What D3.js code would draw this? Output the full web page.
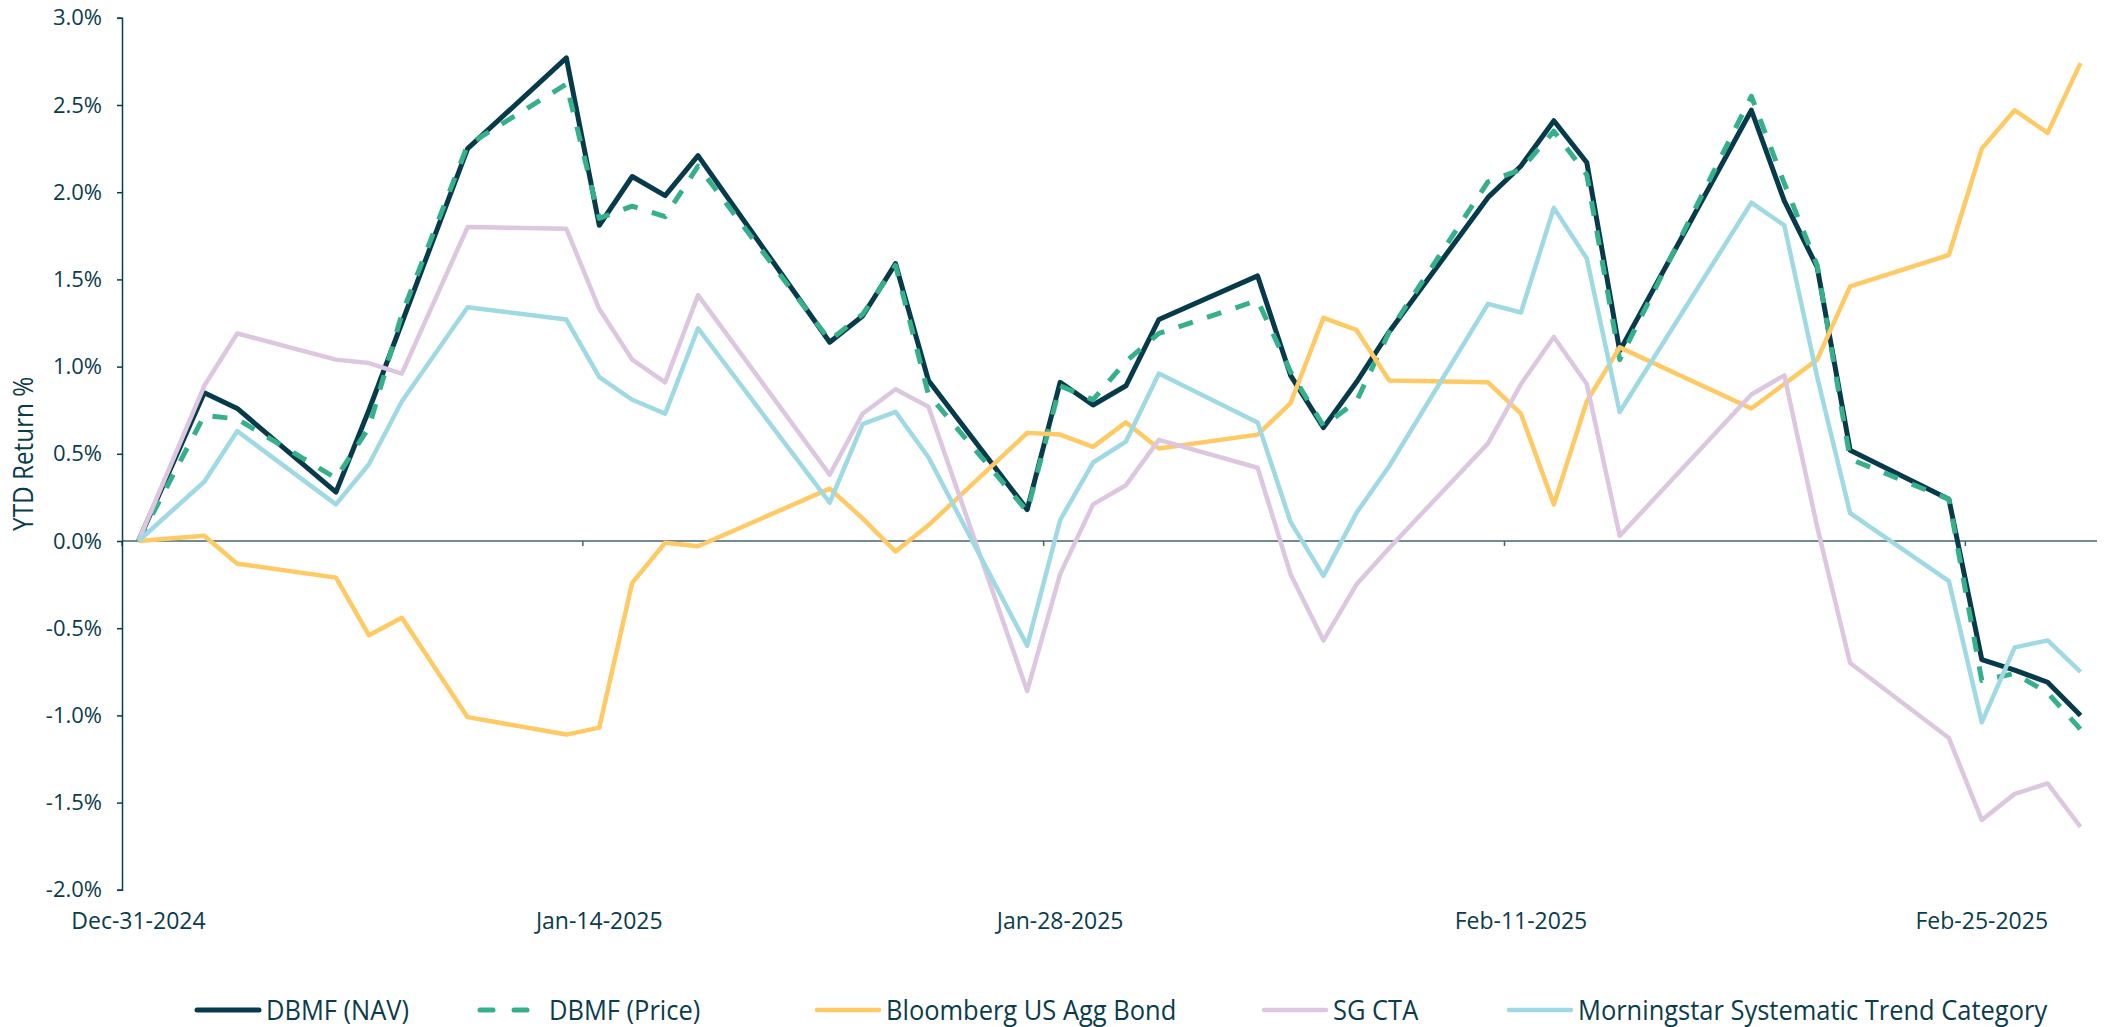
<!DOCTYPE html>
<html>
<head>
<meta charset="utf-8">
<script src="https://cdn.jsdelivr.net/npm/d3@7"></script>
<style>
    body { margin: 0; background: #fff; }
    svg { display: block; }
</style>
</head>
<body>
<main></main>
<script>
// Data - YTD return in %
let dates = ["2024-12-31", "2025-01-02", "2025-01-03", "2025-01-06", "2025-01-07", "2025-01-08", "2025-01-10",
    "2025-01-13", "2025-01-14", "2025-01-15", "2025-01-16", "2025-01-17", "2025-01-21", "2025-01-22",
    "2025-01-23", "2025-01-24", "2025-01-27", "2025-01-28", "2025-01-29", "2025-01-30", "2025-01-31",
    "2025-02-03", "2025-02-04", "2025-02-05", "2025-02-06", "2025-02-07", "2025-02-10", "2025-02-11",
    "2025-02-12", "2025-02-13", "2025-02-14", "2025-02-18", "2025-02-19", "2025-02-20", "2025-02-21",
    "2025-02-24", "2025-02-25", "2025-02-26", "2025-02-27", "2025-02-28"]

let dbmfNav = [0, 0.85, 0.76, 0.28, 0.75, 1.25, 2.25, 2.77, 1.81, 2.09, 1.98, 2.21, 1.14, 1.29, 1.59, 0.92, 0.18,
    0.91, 0.78, 0.89, 1.27, 1.52, 0.95, 0.65, 0.91, 1.20, 1.97, 2.15, 2.41, 2.17, 1.09, 2.47, 1.95, 1.57, 0.52,
    0.24, -0.68, -0.74, -0.81, -1.00]
let dbmfPrice = [0, 0.72, 0.70, 0.36, 0.65, 1.30, 2.27, 2.62, 1.85, 1.92, 1.86, 2.15, 1.15, 1.30, 1.58, 0.84, 0.17,
    0.89, 0.81, 1.03, 1.19, 1.38, 0.97, 0.66, 0.80, 1.20, 2.06, 2.13, 2.35, 2.10, 1.04, 2.55, 2.05, 1.58, 0.47,
    0.24, -0.80, -0.76, -0.87, -1.08]
let aggBond = [0, 0.03, -0.13, -0.21, -0.54, -0.44, -1.01, -1.11, -1.07, -0.24, -0.01, -0.03, 0.30, 0.13, -0.06,
    0.09, 0.62, 0.61, 0.54, 0.68, 0.53, 0.61, 0.79, 1.28, 1.21, 0.92, 0.91, 0.73, 0.21, 0.80, 1.11, 0.76, 0.90,
    1.04, 1.46, 1.64, 2.25, 2.47, 2.34, 2.74]
let sgCta = [0, 0.89, 1.19, 1.04, 1.02, 0.96, 1.80, 1.79, 1.33, 1.04, 0.91, 1.41, 0.38, 0.73, 0.87, 0.77, -0.86,
    -0.19, 0.21, 0.32, 0.58, 0.42, -0.19, -0.57, -0.25, -0.04, 0.56, 0.90, 1.17, 0.90, 0.03, 0.84, 0.95, 0.08,
    -0.70, -1.13, -1.60, -1.45, -1.39, -1.64]
let msTrend = [0, 0.34, 0.63, 0.21, 0.44, 0.80, 1.34, 1.27, 0.94, 0.81, 0.73, 1.22, 0.22, 0.67, 0.74, 0.48, -0.60,
    0.12, 0.45, 0.57, 0.96, 0.68, 0.11, -0.20, 0.16, 0.43, 1.36, 1.31, 1.91, 1.62, 0.74, 1.94, 1.81, 0.94, 0.16,
    -0.23, -1.04, -0.61, -0.57, -0.75]

let seriesNames = ["DBMF (NAV)", "DBMF (Price)", "Bloomberg US Agg Bond", "SG CTA", "Morningstar Systematic Trend Category"]
let seriesValues = [dbmfNav, dbmfPrice, aggBond, sgCta, msTrend]
let yTicks = [-2.0, -1.5, -1.0, -0.5, 0, 0.5, 1.0, 1.5, 2.0, 2.5, 3.0]
let xTickDates = ["2024-12-31", "2025-01-14", "2025-01-28", "2025-02-11", "2025-02-25"]

// styles per series
let colors = ["#073b4c", "#36b08b", "#ffc964", "#dcc6e0", "#9fd9e3"]
let widths = [5, 5, 4.5, 4.5, 4.5]
let dashes = [null, "15,15", null, null, null]
let legendX = [195, 478, 815, 1262, 1507]

let textColor = "#0b3c4b"
let tickFont = "'Open Sans', sans-serif"
let narrowFont = "'Open Sans', sans-serif"

let W = 2105, H = 1027
let parse = d3.timeParse("%Y-%m-%d")
let halfDay = 12 * 3600 * 1000

let x = d3.scaleTime()
    .domain([new Date(parse("2024-12-31") - halfDay), new Date(+parse("2025-02-28") + halfDay)])
    .range([122, 2097])

let y = d3.scaleLinear()
    .domain([-2, 3])
    .range([889.8, 17.8])

let svg = d3.select('main')
    .append('svg')
    .attr('width', W)
    .attr('height', H)

// zero line / x axis
svg.append('line')
    .attr('x1', x.range()[0])
    .attr('x2', x.range()[1])
    .attr('y1', y(0))
    .attr('y2', y(0))
    .style('stroke', '#3f6674')
    .style('stroke-width', 1.5)

// x ticks sit half a day left of their labels
let xAxis = svg.append('g')
xTickDates.forEach(d => {
    let t = parse(d)
    xAxis.append('line')
        .attr('x1', x(new Date(t - halfDay)))
        .attr('x2', x(new Date(t - halfDay)))
        .attr('y1', y(0))
        .attr('y2', y(0) + 5)
        .style('stroke', '#3f6674')
        .style('stroke-width', 1.5)
    xAxis.append('text')
        .attr('x', x(t))
        .attr('y', 929)
        .attr('text-anchor', 'middle')
        .style('font-family', tickFont)
        .style('font-size', '23px')
        .style('fill', textColor)
        .text(d3.timeFormat("%b-%d-%Y")(t))
})

// y axis
let yAxis = svg.append('g')
    .attr('transform', 'translate(122,0)')
    .call(d3.axisLeft(y)
        .tickValues(yTicks)
        .tickSize(5)
        .tickPadding(15)
        .tickFormat(v => v.toFixed(1) + '%'))
yAxis.select('.domain').style('stroke', textColor).style('stroke-width', 1.5)
yAxis.selectAll('.tick line').style('stroke', textColor).style('stroke-width', 1.5)
yAxis.selectAll('.tick text')
    .style('font-family', tickFont)
    .style('font-size', '22px')
    .style('fill', textColor)

// narrow look: squeeze the text horizontally
svg.append('text')
    .attr('transform', `translate(33,${y(0.5)}) rotate(-90) scale(0.9,1)`)
    .attr('text-anchor', 'middle')
    .style('font-family', narrowFont)
    .style('font-size', '27px')
    .style('fill', textColor)
    .text('YTD Return %')

// lines
let line = d3.line()
    .x((v, i) => x(parse(dates[i])))
    .y(v => y(v))

seriesValues.forEach((vals, k) => {
    svg.append('path')
        .datum(vals)
        .attr('d', line)
        .style('fill', 'none')
        .style('stroke', colors[k])
        .style('stroke-width', widths[k])
        .style('stroke-linejoin', 'round')
        .style('stroke-dasharray', dashes[k])
})

// legend
let legendY = 1010
seriesNames.forEach((name, k) => {
    let g = svg.append('g')
        .attr('transform', `translate(${legendX[k]},${legendY})`)
    g.append('line')
        .attr('x1', 2)
        .attr('x2', 64)
        .style('stroke', colors[k])
        .style('stroke-width', widths[k])
        .style('stroke-linecap', 'round')
        .style('stroke-dasharray', k == 1 ? "13,21" : null)
    g.append('text')
        .attr('transform', 'translate(71,0) scale(0.91,1)')
        .attr('dy', '0.35em')
        .style('font-family', narrowFont)
        .style('font-size', '28px')
        .style('fill', textColor)
        .text(name)
})
</script>
</body>
</html>
